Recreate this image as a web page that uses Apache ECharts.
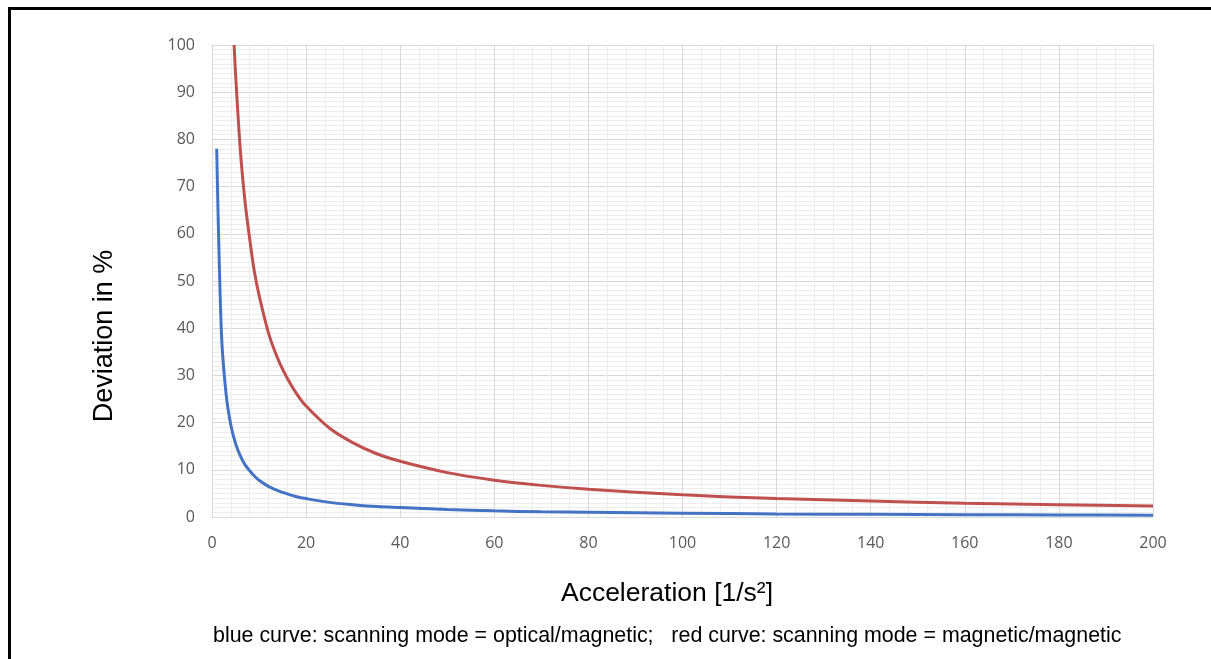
<!DOCTYPE html>
<html>
<head>
<meta charset="utf-8">
<script src="https://cdn.jsdelivr.net/npm/echarts@6/dist/echarts.min.js"></script>
<style>
  html, body { margin: 0; padding: 0; background: #ffffff; }
  #chart { width: 1211px; height: 659px; }
</style>
</head>
<body>
<div id="chart"></div>
<script>
// Deviation (%) versus acceleration (1/s²) for two scanning modes
const xTicks = [0, 20, 40, 60, 80, 100, 120, 140, 160, 180, 200];
const yTicks = [0, 10, 20, 30, 40, 50, 60, 70, 80, 90, 100];

// optical/magnetic scanning mode
const blueX = [1, 2, 3, 4, 5, 6, 7, 8, 9, 10, 12, 14, 16, 18, 20, 25, 30, 35, 40, 50, 60, 70, 80, 100, 120, 140, 160, 180, 200];
const blueY = [78, 39, 26, 19.5, 15.6, 13, 11.1, 9.8, 8.7, 7.8, 6.5, 5.6, 4.9, 4.3, 3.9, 3.1, 2.6, 2.2, 2.0, 1.6, 1.3, 1.1, 1.0, 0.8, 0.65, 0.56, 0.49, 0.43, 0.39];

// magnetic/magnetic scanning mode
const redX = [4.7, 5, 6, 7, 8, 9, 10, 12, 14, 16, 18, 20, 25, 30, 35, 40, 50, 60, 70, 80, 100, 120, 140, 160, 180, 200];
const redY = [100, 94, 78, 67, 59, 52, 47, 39, 33.5, 29.4, 26.1, 23.5, 18.8, 15.7, 13.4, 11.8, 9.4, 7.8, 6.7, 5.9, 4.7, 3.9, 3.4, 2.9, 2.6, 2.35];

const pairs = (xs, ys) => xs.map((x, i) => [x, ys[i]]);

const chart = echarts.init(document.getElementById('chart'), null, { renderer: 'canvas' });

const labelFont = { fontFamily: 'Open Sans', fontSize: 16, color: '#595959' };
const majorGrid = { show: true, lineStyle: { color: '#d9d9d9', width: 1 } };
const minorGrid = { show: true, lineStyle: { color: '#ededed', width: 1 } };

chart.setOption({
  animation: false,
  backgroundColor: '#ffffff',
  grid: { left: 212, right: 58, top: 45, bottom: 142, containLabel: false },
  xAxis: {
    type: 'value',
    min: xTicks[0],
    max: xTicks[xTicks.length - 1],
    interval: xTicks[1] - xTicks[0],
    axisLine: { show: true, lineStyle: { color: '#d9d9d9', width: 1 } },
    axisTick: { show: false },
    axisLabel: Object.assign({ margin: 18 }, labelFont),
    splitLine: majorGrid,
    minorTick: { show: false, splitNumber: 5 },
    minorSplitLine: minorGrid
  },
  yAxis: {
    type: 'value',
    min: yTicks[0],
    max: yTicks[yTicks.length - 1],
    interval: yTicks[1] - yTicks[0],
    axisLine: { show: true, lineStyle: { color: '#d9d9d9', width: 1 } },
    axisTick: { show: false },
    axisLabel: Object.assign({ margin: 17 }, labelFont),
    splitLine: majorGrid,
    minorTick: { show: false, splitNumber: 10 },
    minorSplitLine: minorGrid
  },
  series: [
    {
      name: 'optical/magnetic',
      type: 'line',
      data: pairs(blueX, blueY),
      showSymbol: false,
      smooth: 0.3,
      clip: true,
      lineStyle: { color: '#4472c4', width: 3 },
      z: 3
    },
    {
      name: 'magnetic/magnetic',
      type: 'line',
      data: pairs(redX, redY),
      showSymbol: false,
      smooth: 0.3,
      clip: true,
      lineStyle: { color: '#c0504d', width: 3 },
      z: 2
    }
  ],
  graphic: [
    {
      type: 'rect',
      shape: { x: 9.5, y: 8.5, width: 1400, height: 800 },
      style: { fill: null, stroke: '#000000', lineWidth: 3 },
      silent: true
    },
    {
      type: 'text',
      x: 105, y: 336,
      rotation: Math.PI / 2,
      style: {
        text: 'Deviation in %',
        font: '27px "Liberation Sans", Arial, sans-serif',
        fill: '#000000',
        align: 'center',
        verticalAlign: 'middle'
      }
    },
    {
      type: 'text',
      x: 667, y: 594,
      style: {
        text: 'Acceleration [1/s²]',
        font: '26.5px "Liberation Sans", Arial, sans-serif',
        fill: '#000000',
        align: 'center',
        verticalAlign: 'middle'
      }
    },
    {
      type: 'text',
      x: 213, y: 636,
      style: {
        text: 'blue curve: scanning mode = optical/magnetic;   red curve: scanning mode = magnetic/magnetic',
        font: '21.4px "Liberation Sans", Arial, sans-serif',
        fill: '#000000',
        align: 'left',
        verticalAlign: 'middle'
      }
    }
  ]
});
</script>
</body>
</html>
